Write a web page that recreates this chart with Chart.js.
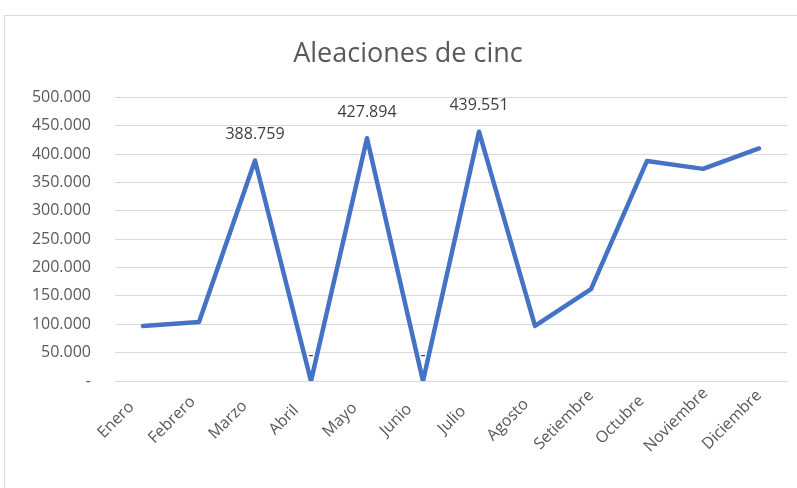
<!DOCTYPE html>
<html>
<head>
<meta charset="utf-8">
<script src="https://cdn.jsdelivr.net/npm/chart.js@4.4.0/dist/chart.umd.min.js"></script>
<style>
  html, body { margin: 0; padding: 0; background: #fff; overflow: hidden; }
  #box { position: absolute; left: 4px; top: 15px; width: 806px; height: 478px; border: 1px solid #d9d9d9; }
</style>
</head>
<body>
<div id="box"><canvas id="myChart" width="806" height="478"></canvas></div>
<script>
// meses
const meses = ['Enero', 'Febrero', 'Marzo', 'Abril', 'Mayo', 'Junio', 'Julio', 'Agosto', 'Setiembre', 'Octubre', 'Noviembre', 'Diciembre'];
// toneladas por mes
const valores = [97000, 104000, 388759, 0, 427894, 0, 439551, 97000, 162000, 388000, 374000, 410000];
// meses con etiqueta de dato
const conEtiqueta = [2, 3, 4, 5, 6];
// eje Y
const yMax = 500000;
const yPaso = 50000;

// formato 500.000 y "-" para cero
function fmt(v) {
    if (v === 0) return '-';
    return String(Math.round(v)).replace(/\B(?=(\d{3})+(?!\d))/g, '.');
}

const fuente = "'Open Sans', 'Noto Sans', sans-serif";

// dibuja las etiquetas de datos encima de los puntos
const etiquetas = {
    id: 'etiquetas',
    afterDatasetsDraw(chart) {
        const ctx = chart.ctx;
        const meta = chart.getDatasetMeta(0);
        ctx.save();
        ctx.font = '16px ' + fuente;
        ctx.fillStyle = '#404040';
        ctx.textAlign = 'center';
        ctx.textBaseline = 'middle';
        conEtiqueta.forEach(i => {
            const p = meta.data[i];
            ctx.fillText(fmt(valores[i]), p.x, p.y - 26);
        });
        ctx.restore();
    }
};

// etiquetas del eje X giradas 45°, centradas como en Excel
const mesesEje = {
    id: 'mesesEje',
    afterDraw(chart) {
        const ctx = chart.ctx;
        const xs = chart.scales.x;
        ctx.save();
        ctx.font = '16px ' + fuente;
        ctx.fillStyle = '#595959';
        ctx.textAlign = 'center';
        ctx.textBaseline = 'middle';
        xs.ticks.forEach((t, i) => {
            const x = xs.getPixelForTick(i) - 27;
            const y = xs.top + 39;
            ctx.save();
            ctx.translate(x, y);
            ctx.rotate(-Math.PI / 4);
            ctx.fillText(meses[i], 0, 0);
            ctx.restore();
        });
        ctx.restore();
    }
};

const config = {
    type: 'line',
    data: {
        labels: meses,
        datasets: [{
            data: valores,
            borderColor: '#4472C4',
            backgroundColor: '#4472C4',
            borderWidth: 4.5,
            borderCapStyle: 'round',
            borderJoinStyle: 'round',
            pointRadius: 0,
            tension: 0
        }]
    },
    options: {
        responsive: false,
        animation: false,
        layout: { padding: { left: 24, right: 24, top: 0, bottom: 0 } },
        plugins: {
            legend: { display: false },
            tooltip: { enabled: false },
            title: {
                display: true,
                text: 'Aleaciones de cinc',
                color: '#595959',
                font: { family: fuente, size: 27, weight: 'normal' },
                padding: { top: 22, bottom: 27 }
            }
        },
        scales: {
            x: {
                offset: true,
                grid: { display: false, drawTicks: false, offset: false },
                border: { display: true, color: '#d9d9d9', width: 1 },
                afterFit(scale) { scale.height = 113; },
                ticks: { display: false, autoSkip: false }
            },
            y: {
                min: 0,
                max: yMax,
                grid: { color: '#d9d9d9', drawTicks: false, lineWidth: 1 },
                border: { display: false },
                afterFit(scale) { scale.width = 86; },
                ticks: {
                    stepSize: yPaso,
                    color: '#595959',
                    font: { family: fuente, size: 16 },
                    padding: 24,
                    callback: v => fmt(v)
                }
            }
        }
    },
    plugins: [etiquetas, mesesEje]
};

const chart = new Chart(document.getElementById('myChart'), config);
</script>
</body>
</html>
